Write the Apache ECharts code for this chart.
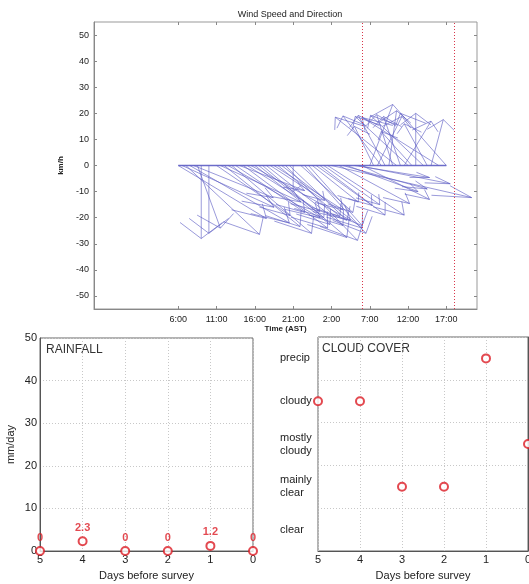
<!DOCTYPE html>
<html><head><meta charset="utf-8">
<script src="https://cdn.jsdelivr.net/npm/echarts@6/dist/echarts.min.js"></script>
<style>html,body{margin:0;padding:0;background:#fff}#c{width:529px;height:584px}</style>
</head><body><div id="c"></div>
<script>
// ---- Wind data (hours since Apr11 00:00 AST; u in hours of x-axis, v in km/h) ----
const windTime = [6,6.5,7,7.5,8,8.5,9,10,11,11.5,12,12.5,13,13.5,14,14.5,15,15.5,16,16.5,17,17.5,18,18.5,19,19.5,20,20.5,21,22,22.5,23,23.5,24,24.5,25,25.5,26,27,27.5,28,29,29.5,30,31,31.5,32,32.5,33,33.5,34,34.5,35,35.5,36,36.5,37,38,38.5,39,40,41];
const windU = [11.5,12,9.6,13,10.4,3,0,0,9.6,10.5,9.9,12,10.4,9,8.5,11,9.5,13,9.8,8.5,11,10,7.1,9,8.1,10.5,9.4,7.5,0,6.8,8,7,6,7.3,8.5,7.3,10,18.3,9.2,11,9.3,9.8,12,8.8,3,-2.5,3.2,-5,-3.5,1,-2.1,-8,-2.2,3.5,-6.9,-4,0,-6.9,-3,1.6,-10,-6];
const windV = [-20.3,-16,-26.4,-22,-12.3,-24,-28,-26,-19.2,-14,-23.4,-20,-26,-18,-9.6,-24,-17.6,-21,-22.6,-20,-27.6,-23,-13.4,-17,-19.5,-24,-28.7,-21,-10,-18,-26,-23,-14,-15.3,-19,-15,-19,-12.3,-14.6,-9,-10,-4.6,-7,-13,23.4,15,18.8,19,19.2,21,19.5,18.5,18.8,17,18.8,13,20,19.2,16,17.6,18.4,20];
const timeTicks = [6,11,16,21,26,31,36,41];
const windTicks = [-50,-40,-30,-20,-10,0,10,20,30,40,50];
const surveyStart = 30, surveyEnd = 42;

// ---- Rainfall ----
const days = [5,4,3,2,1,0];
const rainfall = [0,2.3,0,0,1.2,0];
const rainLabels = ['0','2.3','0','0','1.2','0'];

// ---- Cloud cover ----
const cloudCategories = ['clear','mainly\nclear','mostly\ncloudy','cloudy','precip'];
const cloudLevel = [3,3,1,1,4,2]; // index into cloudCategories per day

const FONT = 'Liberation Sans, Arial, sans-serif';
const chart = echarts.init(document.getElementById('c'), null, {renderer:'canvas'});

const windData = windTime.map((t,i)=>[t, windU[i], windV[i]]);
const alpha = 0.22, beta = 0.45;

function renderStick(params, api){
  const t = api.value(0), u = api.value(1), v = api.value(2);
  const p0 = api.coord([t,0]);
  const p1 = api.coord([t+u, v]);
  const h1 = api.coord([t+u - alpha*(u + beta*v), v - alpha*(v - beta*u)]);
  const h2 = api.coord([t+u - alpha*(u - beta*v), v - alpha*(v + beta*u)]);
  const st = {stroke:'#5c5cc4', lineWidth:1, opacity:0.62, fill:null};
  return {type:'group', children:[
    {type:'line', shape:{x1:p0[0],y1:p0[1],x2:p1[0],y2:p1[1]}, style:st},
    {type:'polyline', shape:{points:[h1,p1,h2]}, style:st}
  ]};
}

const axisGray = '#888';
const tickLabel = {color:'#222', fontFamily:FONT, fontSize:9};
const gridLine = {show:true, lineStyle:{color:'#c8c8c8', type:[1,2], width:1}};
const RED = '#dc1c24';

const option = {
  animation:false,
  title:{text:'Wind Speed and Direction', left:285, top:5, textAlign:'center',
    textStyle:{fontFamily:FONT, fontSize:9, fontWeight:'normal', color:'#222'}},
  grid:[
    {left:94, right:52, top:22, bottom:275, show:true, borderColor:'#999', borderWidth:1, outerBoundsMode:'none', containLabel:false},
    {left:40, right:276, top:338, bottom:33, show:true, borderColor:'#666', borderWidth:1, outerBoundsMode:'none', containLabel:false},
    {left:318, width:210, top:337, bottom:33, show:true, borderColor:'#666', borderWidth:1, outerBoundsMode:'none', containLabel:false}
  ],
  xAxis:[
    {gridIndex:0, type:'value', min:-5, max:45, position:'bottom',
      axisLine:{show:true, onZero:false, lineStyle:{color:axisGray}},
      axisTick:{show:true, inside:true, length:3, customValues:timeTicks, lineStyle:{color:axisGray}},
      axisLabel:{...tickLabel, customValues:timeTicks, margin:6, formatter:v=>(v%24)+':00'},
      splitLine:{show:false},
      name:'Time (AST)', nameLocation:'middle', nameGap:16,
      nameTextStyle:{fontFamily:FONT, fontSize:8, fontWeight:'bold', color:'#222'}},
    {gridIndex:0, type:'value', min:-5, max:45, position:'top',
      axisLine:{show:false, onZero:false}, axisLabel:{show:false}, splitLine:{show:false},
      axisTick:{show:true, inside:true, length:3, customValues:timeTicks, lineStyle:{color:axisGray}}},
    {gridIndex:1, type:'value', min:0, max:5, interval:1, inverse:true,
      axisLine:{show:true, onZero:false, lineStyle:{color:'#555'}},
      axisTick:{show:false},
      axisLabel:{color:'#222', fontFamily:FONT, fontSize:11, margin:3},
      splitLine:gridLine,
      name:'Days before survey', nameLocation:'middle', nameGap:19,
      nameTextStyle:{fontFamily:FONT, fontSize:11, color:'#222'}},
    {gridIndex:2, type:'value', min:0, max:5, interval:1, inverse:true,
      axisLine:{show:true, onZero:false, lineStyle:{color:'#555'}},
      axisTick:{show:false},
      axisLabel:{color:'#222', fontFamily:FONT, fontSize:11, margin:3},
      splitLine:gridLine,
      name:'Days before survey', nameLocation:'middle', nameGap:19,
      nameTextStyle:{fontFamily:FONT, fontSize:11, color:'#222'}}
  ],
  yAxis:[
    {gridIndex:0, type:'value', min:-55, max:55, position:'left',
      axisLine:{show:true, onZero:false, lineStyle:{color:axisGray}},
      axisTick:{show:true, inside:true, length:3, customValues:windTicks, lineStyle:{color:axisGray}},
      axisLabel:{...tickLabel, customValues:windTicks, margin:5},
      splitLine:{show:false},
      name:'km/h', nameLocation:'middle', nameGap:20, nameRotate:90,
      nameTextStyle:{fontFamily:FONT, fontSize:8, fontWeight:'bold', color:'#222'}},
    {gridIndex:0, type:'value', min:-55, max:55, position:'right',
      axisLine:{show:false, onZero:false}, axisLabel:{show:false}, splitLine:{show:false},
      axisTick:{show:true, inside:true, length:3, customValues:windTicks, lineStyle:{color:axisGray}}},
    {gridIndex:1, type:'value', min:0, max:50, interval:10,
      axisLine:{show:true, onZero:false, lineStyle:{color:'#555'}},
      axisTick:{show:false},
      axisLabel:{color:'#222', fontFamily:FONT, fontSize:11, margin:3},
      splitLine:gridLine,
      name:'mm/day', nameLocation:'middle', nameGap:24, nameRotate:90,
      nameTextStyle:{fontFamily:FONT, fontSize:11, color:'#222'}},
    {gridIndex:2, type:'category', data:cloudCategories, boundaryGap:true,
      axisLine:{show:false, onZero:false}, axisTick:{show:false}, splitLine:{show:false},
      axisLabel:{color:'#222', fontFamily:FONT, fontSize:11, align:'left', margin:38, lineHeight:13, interval:0}},
    {gridIndex:2, type:'value', min:0, max:5, interval:1,
      axisLine:{show:true, onZero:false, lineStyle:{color:'#555'}},
      axisTick:{show:false}, axisLabel:{show:false},
      splitLine:gridLine}
  ],
  series:[
    {type:'line', xAxisIndex:0, yAxisIndex:0, data:[[windTime[0],0],[windTime[windTime.length-1],0]],
      symbol:'none', lineStyle:{color:'#5c5cc4', width:1.3, opacity:0.9}, silent:true,
      markLine:{silent:true, symbol:'none', label:{show:false},
        lineStyle:{color:'#d8364a', type:[1,2], width:1},
        data:[{xAxis:surveyStart},{xAxis:surveyEnd}]}},
    {type:'custom', xAxisIndex:0, yAxisIndex:0, data:windData, renderItem:renderStick, clip:true, silent:true},
    {type:'scatter', xAxisIndex:0, yAxisIndex:0, symbol:'none', silent:true,
      data:[{value:[4.6,-50], name:'Apr11'},{value:[24.7,-50], name:'Apr12'}],
      label:{show:true, position:'inside', formatter:p=>p.name, fontFamily:FONT, fontSize:9, fontWeight:'bold', color:'#222'}},
    {type:'scatter', xAxisIndex:0, yAxisIndex:0, symbol:'none', silent:true,
      data:[{value:[36.2,50], name:'Survey Hours'}],
      label:{show:true, position:'inside', formatter:p=>p.name, fontFamily:FONT, fontSize:9, color:'#d8364a'}},
    {type:'scatter', xAxisIndex:2, yAxisIndex:2, clip:false,
      data:days.map((d,i)=>[d, rainfall[i]]),
      symbol:'emptyCircle', symbolSize:8,
      itemStyle:{color:RED, borderColor:RED, borderWidth:2.4},
      label:{show:true, position:'top', distance:3, formatter:p=>rainLabels[p.dataIndex],
        fontFamily:FONT, fontSize:11, fontWeight:'bold', color:RED}},
    {type:'scatter', xAxisIndex:3, yAxisIndex:4, clip:false,
      data:days.map((d,i)=>[d, cloudLevel[i]+0.5]),
      symbol:'emptyCircle', symbolSize:8,
      itemStyle:{color:RED, borderColor:RED, borderWidth:2.4}}
  ],
  graphic:[
    {type:'text', left:46, top:344, style:{text:'RAINFALL', font:'12px '+FONT, fill:'#333'}},
    {type:'text', left:322, top:343, style:{text:'CLOUD COVER', font:'12px '+FONT, fill:'#333'}}
  ]
};
chart.setOption(option);
</script></body></html>
